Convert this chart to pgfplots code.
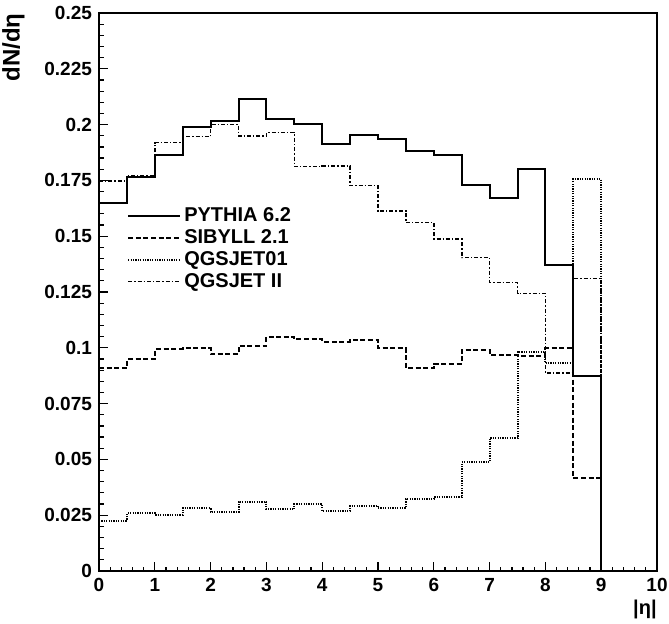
\documentclass[border=0pt]{standalone}
\usepackage{fontspec}
\setmainfont{Liberation Sans}
\usepackage{pgfplots}
\pgfplotsset{compat=1.18}
\begin{document}
\begin{tikzpicture}
\begin{axis}[
  name=ax,
  scale only axis,
  width=279pt, height=279pt,
  xmin=0, xmax=10, ymin=0, ymax=0.25,
  xtick={0,1,...,10},
  ytick={0,0.025,0.05,0.075,0.1,0.125,0.15,0.175,0.2,0.225,0.25},
  yticklabels={0,0.025,0.05,0.075,0.1,0.125,0.15,0.175,0.2,0.225,0.25},
  minor x tick num=4,
  minor y tick num=4,
  tick pos=left,
  tick align=inside,
  major tick length=4.5pt,
  minor tick length=2.25pt,
  every tick/.style={black, line width=0.6pt},
  axis line style={line width=1pt},
  /pgf/number format/assume math mode=true,
  ticklabel style={font=\bfseries\fontsize{9.5}{11}\selectfont},
  every axis plot/.append style={const plot mark left},
  legend style={at={(axis cs:0.5,0.1642)}, anchor=north west, draw=none, fill=none,
    font=\bfseries\fontsize{10}{11}\selectfont, inner sep=0pt,
    nodes={inner sep=1.5pt}, row sep=-0.6pt},
  legend cell align=left,
  legend image code/.code={\draw[#1] (0pt,0pt) -- (26pt,0pt);},
]
% PYTHIA 6.2
\addplot[black, line width=1pt] coordinates {
(0,0.1647)(0.5,0.1767)(1,0.1864)(1.5,0.1991)(2,0.2016)(2.5,0.2115)(3,0.2027)(3.5,0.2003)
(4,0.1912)(4.5,0.1952)(5,0.1934)(5.5,0.1882)(6,0.1864)(6.5,0.1729)(7,0.1671)(7.5,0.1801)
(8,0.1371)(8.5,0.0874)(9,0)};
\addlegendentry{PYTHIA 6.2}
% SIBYLL 2.1
\addplot[black, line width=1pt, dash pattern=on 2.5pt off 1.3pt] coordinates {
(0,0.0908)(0.5,0.0948)(1,0.0993)(1.5,0.0997)(2,0.0971)(2.5,0.1008)(3,0.1050)(3.5,0.1039)
(4,0.1027)(4.5,0.1035)(5,0.0998)(5.5,0.0908)(6,0.0929)(6.5,0.0990)(7,0.0968)(7.5,0.0965)
(8,0.0998)(8.5,0.0415)(9,0)};
\addlegendentry{SIBYLL 2.1}
% QGSJET01
\addplot[black, line width=1pt, dash pattern=on 0.6pt off 0.6pt] coordinates {
(0,0.0226)(0.5,0.0258)(1,0.0252)(1.5,0.0282)(2,0.0264)(2.5,0.0311)(3,0.0276)(3.5,0.0299)
(4,0.0269)(4.5,0.0292)(5,0.0281)(5.5,0.0323)(6,0.0330)(6.5,0.0487)(7,0.0595)(7.5,0.0983)
(8,0.0930)(8.5,0.1755)(9,0)};
\addlegendentry{QGSJET01}
% QGSJET II
\addplot[black, line width=0.8pt, dash pattern=on 2pt off 1pt on 0.7pt off 1pt] coordinates {
(0,0.1747)(0.5,0.1772)(1,0.1919)(1.5,0.1946)(2,0.2001)(2.5,0.1949)(3,0.1965)(3.5,0.1813)
(4,0.1815)(4.5,0.1727)(5,0.1613)(5.5,0.1561)(6,0.1487)(6.5,0.1404)(7,0.1293)(7.5,0.1244)
(8,0.0886)(8.5,0.1311)(9,0)};
\addlegendentry{QGSJET II}
\end{axis}
\node[rotate=90, anchor=south east, inner sep=0pt, font=\bfseries\fontsize{12}{13}\selectfont]
  at ([xshift=-37pt]ax.north west) {dN/dη};
\node[anchor=north east, inner sep=0pt, font=\bfseries\fontsize{10}{11}\selectfont]
  at ([yshift=-14.5pt]ax.south east) {|η|};
\pgfresetboundingbox
\path ([shift={(-49.5pt,-26pt)}]ax.south west) rectangle ([shift={(6pt,6.5pt)}]ax.north east);
\end{tikzpicture}
\end{document}
